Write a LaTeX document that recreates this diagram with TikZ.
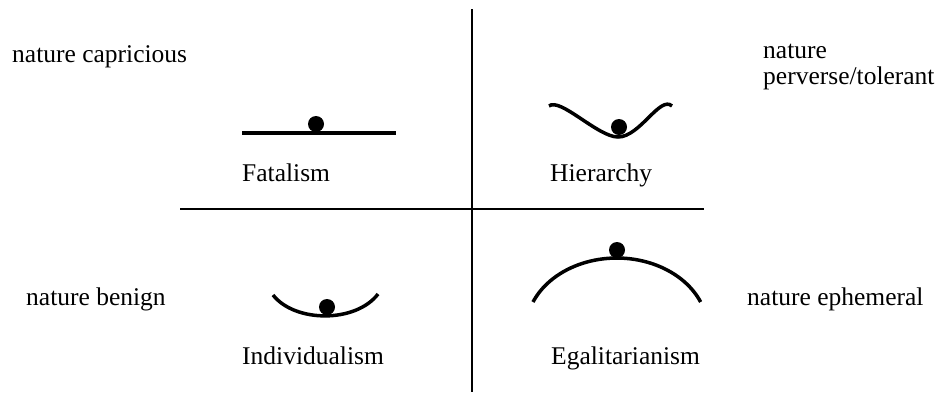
\documentclass[tikz,border=0pt]{standalone}
\usepackage{fontspec}
\setmainfont{Liberation Serif}
\usetikzlibrary{positioning}

\begin{document}
\begin{tikzpicture}[
    x=1pt, y=-1pt,
    txt/.style={inner sep=0pt, anchor=base west, align=left, font=\fontsize{25.5}{26}\selectfont},
    axis/.style={line width=1.5pt},
    curve/.style={line width=3.5pt},
    ball/.style={circle, fill=black, inner sep=0pt, minimum size=16pt},
]
\useasboundingbox (0,0) rectangle (939,392);

% Axes
\coordinate (vtop) at (472,9);
\coordinate (vbot) at (472,392);
\coordinate (hleft) at (180,209);
\coordinate (hright) at (704,209);
\draw[axis] (vtop) -- (vbot);
\draw[axis] (hleft) -- (hright);

% Corner texts
\node[txt] (capr) at (12,62) {nature capricious};
\node[txt] (perv) at (763,84) {nature\\perverse/tolerant};
\node[txt] (beni) at (26,305) {nature benign};
\node[txt] (ephe) at (747,305) {nature ephemeral};

% Quadrant names
\node[txt] (fatal) at (242,181) {Fatalism};
\node[txt] (hier) at (550,181) {Hierarchy};
\node[txt] (indiv) at (242,364) {Individualism};
\node[txt] (egal) at (551,364) {Egalitarianism};

% Landscapes
\draw[curve] (242,133) -- (396,133);
\draw[curve] (549,106) .. controls (560,97) and (598,137) .. (618,137)
    .. controls (640,137) and (660,95) .. (672,106);
\draw[curve] (273,295) .. controls (295,323) and (356,323) .. (378,294);
\draw[curve] (533,302) arc[start angle=-157.1, end angle=-22.9, x radius=91, y radius=72];

% Balls
\node[ball] (bfatal) at (316,124) {};
\node[ball] (bhier) at (619,127) {};
\node[ball] (bindiv) at (327,307) {};
\node[ball] (begal) at (617,250) {};

\end{tikzpicture}
\end{document}
